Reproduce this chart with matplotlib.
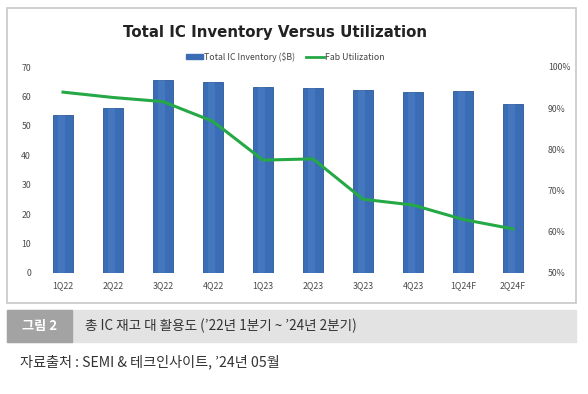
import matplotlib
matplotlib.use("Agg")
import matplotlib.pyplot as plt
from matplotlib.patches import Rectangle
from matplotlib.lines import Line2D
import numpy as np

plt.rcParams['font.family'] = ['Noto Sans CJK KR', 'DejaVu Sans']

quarters = ['1Q22', '2Q22', '3Q22', '4Q22', '1Q23', '2Q23', '3Q23', '4Q23', '1Q24F', '2Q24F']
inventory = [53.8, 56.2, 65.6, 64.8, 63.3, 63.0, 62.3, 61.4, 61.9, 57.3]
utilization = [93.9, 92.6, 91.6, 86.8, 77.4, 77.7, 67.9, 66.5, 63.0, 60.7]

left_ticks = [0, 10, 20, 30, 40, 50, 60, 70]
right_ticks = [50, 60, 70, 80, 90, 100]

W, H = 588, 394
fig = plt.figure(figsize=(W / 100, H / 100), dpi=100)

def fx(px):
    return px / W

def fy(py):
    return 1 - py / H

# chart frame
fig.patches.append(Rectangle((fx(7), fy(303)), fx(576) - fx(7), fy(8) - fy(303),
                             transform=fig.transFigure, fill=False,
                             edgecolor='#c8c8c8', linewidth=1.2))

ax = fig.add_axes([fx(38), fy(273), fx(538) - fx(38), fy(67) - fy(273)])
x = np.arange(len(quarters))
ax.bar(x, inventory, width=0.41, color='#3a6db5', edgecolor='#2b5795', linewidth=0.6, zorder=2)
# light highlight stripe to hint the rounded bars
ax.bar(x - 0.04, inventory, width=0.14, color='#5b8bd1', alpha=0.35, linewidth=0, zorder=2)
ax.set_xlim(-0.5, len(quarters) - 0.5)
ax.set_ylim(0, 70)
ax.set_yticks(left_ticks)
ax.set_xticks(x)
ax.set_xticklabels(quarters)
ax.tick_params(axis='both', length=0, labelsize=6.3, colors='#4a4a4a')
ax.tick_params(axis='y', pad=5)
ax.tick_params(axis='x', pad=6)
for s in ax.spines.values():
    s.set_visible(False)

ax2 = ax.twinx()
ax2.plot(x, utilization, color='#25a846', linewidth=2.2, zorder=3)
ax2.set_ylim(50, 100)
ax2.set_yticks(right_ticks)
ax2.set_yticklabels([f'{t}%' for t in right_ticks])
ax2.tick_params(axis='y', length=0, labelsize=6.3, colors='#4a4a4a', pad=7)
for s in ax2.spines.values():
    s.set_visible(False)

fig.text(fx(275), fy(32), 'Total IC Inventory Versus Utilization', ha='center', va='center',
         fontsize=10.8, fontweight='bold', color='#222222', family=['DejaVu Sans'])

handles = [Rectangle((0, 0), 1, 1, color='#3a6db5'),
           Line2D([0], [0], color='#25a846', linewidth=2)]
fig.legend(handles, ['Total IC Inventory ($B)', 'Fab Utilization'],
           loc='center', bbox_to_anchor=(fx(285), fy(57)), ncol=2, frameon=False,
           fontsize=6.3, handlelength=2.0, handleheight=0.45, handletextpad=0.1,
           columnspacing=1.3, labelcolor='#444444')

# caption bar
fig.patches.append(Rectangle((fx(7), fy(342)), fx(576) - fx(7), fy(310) - fy(342),
                             transform=fig.transFigure, color='#e3e3e3', zorder=0))
fig.patches.append(Rectangle((fx(7), fy(342)), fx(72) - fx(7), fy(310) - fy(342),
                             transform=fig.transFigure, color='#a3a3a3', zorder=1))
fig.text(fx(39.5), fy(326), '그림 2', ha='center', va='center', fontsize=9.5,
         fontweight='bold', color='white')
fig.text(fx(85), fy(326), '총 IC 재고 대 활용도 (’22년 1분기 ~ ’24년 2분기)', ha='left',
         va='center', fontsize=9.8, color='#333333', fontweight='light')
fig.text(fx(20), fy(362), '자료출처 : SEMI & 테크인사이트, ’24년 05월', ha='left',
         va='center', fontsize=10.2, color='#333333', fontweight='light')

fig.savefig('out.png', dpi=100)
